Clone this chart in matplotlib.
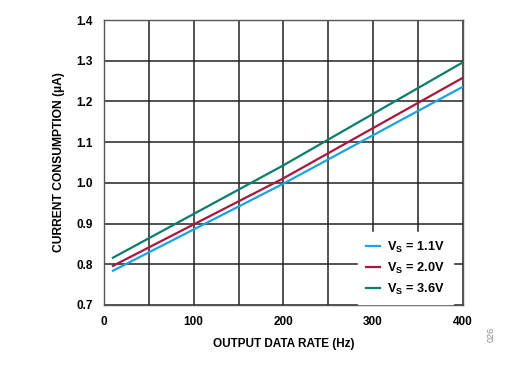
import matplotlib
matplotlib.use("Agg")
from matplotlib import pyplot as plt

plt.rcParams['font.family'] = ['Liberation Sans', 'DejaVu Sans']
plt.rcParams['font.weight'] = 'bold'

odr_hz = [10, 200, 400]
i_1v1 = [0.784, 0.998, 1.236]
i_2v0 = [0.796, 1.011, 1.258]
i_3v6 = [0.816, 1.043, 1.296]

series = [
    (i_1v1, '#1aa3e0', r'V$_\mathregular{S}$ = 1.1V'),
    (i_2v0, '#a8173f', r'V$_\mathregular{S}$ = 2.0V'),
    (i_3v6, '#0b7d6b', r'V$_\mathregular{S}$ = 3.6V'),
]

fig = plt.figure(figsize=(5.16, 3.66), dpi=100)
ax = fig.add_axes([0.2016, 0.167, 0.695, 0.778])

for vals, col, lab in series:
    ax.plot(odr_hz, vals, color=col, lw=1.6, label=lab, zorder=3)

ax.set_xlim(0, 400)
ax.set_ylim(0.7, 1.4)
ax.set_xticks(range(0, 401, 50))
ax.set_xticklabels(['0', '', '100', '', '200', '', '300', '', '400'])
ax.set_yticks([0.7, 0.8, 0.9, 1.0, 1.1, 1.2, 1.3, 1.4])
ax.set_yticklabels(['0.7', '0.8', '0.9', '1.0', '1.1', '1.2', '1.3', '1.4'])
ax.grid(True, color='#222222', lw=1.1)
ax.tick_params(length=0, labelsize=8.5, pad=8)
for s in ax.spines.values():
    s.set_color('#555555')
    s.set_linewidth(1.0)

ax.set_xlabel('OUTPUT DATA RATE (Hz)', fontsize=8.5, fontweight='bold', labelpad=7)
ax.set_ylabel('CURRENT CONSUMPTION (µA)', fontsize=8.7, fontweight='bold', labelpad=8)

leg = ax.legend(loc='lower right', bbox_to_anchor=(0.99, -0.02), frameon=True,
                fontsize=9.2, handlelength=1.1, handletextpad=0.6,
                labelspacing=0.45, borderpad=0.6)
leg.get_frame().set_edgecolor('white')
leg.get_frame().set_facecolor('white')
leg.get_frame().set_alpha(1)
leg.get_frame().set_boxstyle('square', pad=0)
for t in leg.get_texts():
    t.set_fontweight('bold')

fig.text(0.952, 0.085, '026', rotation=90, fontsize=6.5, color='#888888',
         fontweight='normal', ha='center', va='center')

fig.savefig('out.png', dpi=100)
